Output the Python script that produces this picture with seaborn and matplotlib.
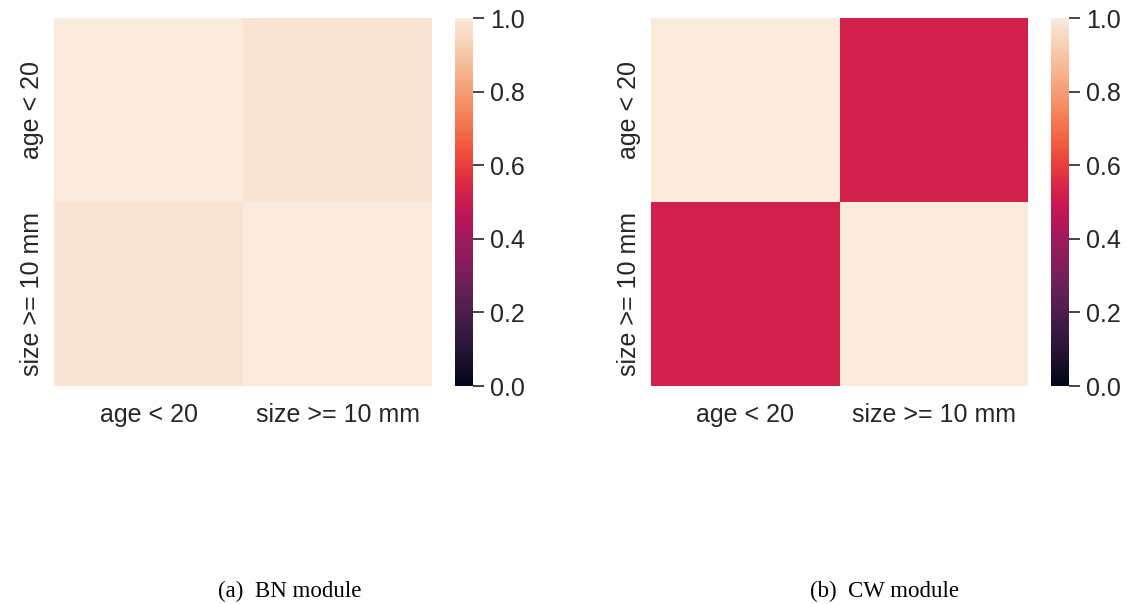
# plot.py - BN vs CW module feature correlation heatmaps

import numpy as np
import matplotlib
matplotlib.use("Agg")
import matplotlib.pyplot as plt
import seaborn as sns

# ── Data ──────────────────────────────────────────────────────────────────────
features = ["age < 20", "size >= 10 mm"]
bn_values = [[1.00, 0.98],
             [0.98, 1.00]]
cw_values = [[1.00, 0.52],
             [0.52, 1.00]]
captions = ["(a)  BN module", "(b)  CW module"]

sns.set_theme(style="white")
plt.rcParams["font.family"] = ["Liberation Sans", "DejaVu Sans"]
plt.rcParams["text.color"] = ".15"
plt.rcParams["xtick.color"] = ".15"
plt.rcParams["ytick.color"] = ".15"

W, H = 1129, 604
fig = plt.figure(figsize=(W / 100, H / 100), dpi=100)


def px_axes(x0, y0, x1, y1):
    # pixel box (top-left origin) -> figure axes
    return fig.add_axes([x0 / W, 1 - y1 / H, (x1 - x0) / W, (y1 - y0) / H])


panels = [
    (bn_values, (54, 18, 432, 386), (455, 18, 473, 386), 290),
    (cw_values, (651, 18, 1028, 386), (1051, 18, 1069, 386), 885),
]

for (vals, hm_box, cb_box, cap_x), cap in zip(panels, captions):
    ax = px_axes(*hm_box)
    cax = px_axes(*cb_box)
    sns.heatmap(
        np.array(vals), vmin=0, vmax=1, cmap="rocket",
        xticklabels=features, yticklabels=features,
        ax=ax, cbar_ax=cax,
    )
    ax.tick_params(axis="x", length=0, labelsize=18, pad=12)
    ax.tick_params(axis="y", length=0, labelsize=18, pad=7)
    ax.set_yticklabels(features, rotation=90, va="center")
    ax.set_xticklabels(features, rotation=0)
    cax.tick_params(axis="y", length=8, width=1.2, labelsize=18, right=True, pad=4)
    cax.set_yticks([0, 0.2, 0.4, 0.6, 0.8, 1.0])
    cax.set_yticklabels(["0.0", "0.2", "0.4", "0.6", "0.8", "1.0"])
    for s in cax.spines.values():
        s.set_visible(False)
    fig.text(cap_x / W, 1 - 591 / H, cap, ha="center", va="center",
             fontsize=16.5, family=["Liberation Serif", "DejaVu Serif"], color="black")

fig.savefig("out.png", dpi=100)
plt.close(fig)
